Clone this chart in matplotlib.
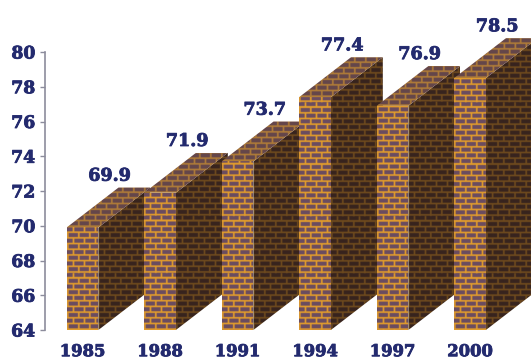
import numpy as np
import matplotlib
matplotlib.use("Agg")
import matplotlib.pyplot as plt
import matplotlib.patheffects as pe
from matplotlib.patches import Polygon

years = ["1985", "1988", "1991", "1994", "1997", "2000"]
values = [69.9, 71.9, 73.7, 77.4, 76.9, 78.5]
yticks = [64, 66, 68, 70, 72, 74, 76, 78, 80]

navy = "#232a6e"
bar_width = 0.41
depth_x = 0.67
depth_y = 2.3
heavy = [pe.withStroke(linewidth=0.6, foreground=navy)]


def bricks(w, h, brick, mortar):
    # 3x pixels, courses 5.7px high and bricks 11px long
    scale = 3
    rows, cols = int(h * scale) + 1, int(w * scale) + 1
    img = np.empty((rows, cols, 3))
    img[:] = mortar
    course = 5.7 * scale
    length = 11 * scale
    yy, xx = np.mgrid[0:rows, 0:cols]
    row_no = np.floor((rows - yy) / course)
    in_y = ((rows - yy) % course) > 1.7 * scale
    in_x = ((xx + (row_no % 2) * length / 2) % length) > 1.5 * scale
    img[in_y & in_x] = brick
    # soften a little, the reference is a blurry jpeg
    for axis in (0, 1):
        img = (np.roll(img, 1, axis) + img + np.roll(img, -1, axis)) / 3
    return img


def to_rgb(c):
    return np.array(matplotlib.colors.to_rgb(c))


fig = plt.figure(figsize=(5.31, 3.6), dpi=100)
ax = fig.add_axes([45 / 531, 1 - 330 / 360, 486 / 531, 278 / 360])
ax.set_xlim(-0.484, 5.787)
ax.set_ylim(64, 80)

px_x = 486 / (5.787 + 0.484)
px_y = 278 / 16

front_col = (to_rgb("#6a4c60"), to_rgb("#e29c2c"))
side_col = (to_rgb("#38241e"), to_rgb("#6e4a1e"))
top_col = (to_rgb("#64464a"), to_rgb("#b07c38"))

for i, v in enumerate(values):
    x0 = i - bar_width / 2
    x1 = i + bar_width / 2
    faces = [
        ([(x1, 64), (x1 + depth_x, 64 + depth_y), (x1 + depth_x, v + depth_y), (x1, v)], side_col),
        ([(x0, v), (x1, v), (x1 + depth_x, v + depth_y), (x0 + depth_x, v + depth_y)], top_col),
        ([(x0, 64), (x1, 64), (x1, v), (x0, v)], front_col),
    ]
    for pts, cols in faces:
        pts = np.array(pts)
        xa, xb = pts[:, 0].min(), pts[:, 0].max()
        ya, yb = pts[:, 1].min(), pts[:, 1].max()
        tex = bricks((xb - xa) * px_x, (yb - ya) * px_y, cols[0], cols[1])
        im = ax.imshow(tex, extent=[xa, xb, ya, yb], aspect="auto", zorder=2 + i,
                       interpolation="antialiased")
        poly = Polygon(pts, closed=True, transform=ax.transData, facecolor="none", edgecolor="none")
        im.set_clip_path(poly)
        im.set_clip_box(fig.bbox)
    ax.text(i + 0.35, v + 2.95, "%.1f" % v, ha="center", va="center", color=navy,
            fontsize=12.6, family="DejaVu Serif", weight="bold", zorder=20, clip_on=False,
            path_effects=heavy)

ax.set_xlim(-0.484, 5.787)
ax.set_ylim(64, 80)

ax.set_yticks(yticks)
ax.set_yticklabels([str(t) for t in yticks], family="DejaVu Serif", weight="bold", fontsize=12.4,
                   color=navy, path_effects=heavy)
ax.set_xticks(range(len(years)))
ax.set_xticklabels(years, family="DejaVu Serif", weight="bold", fontsize=11.8, color=navy,
                   path_effects=heavy)
ax.tick_params(axis="y", length=3.5, width=1, color="#8c8c9c", pad=3.5)
ax.tick_params(axis="x", length=0, pad=9.5)

for s in ["top", "right", "bottom"]:
    ax.spines[s].set_visible(False)
ax.spines["left"].set_color("#8c8c9c")
ax.spines["left"].set_linewidth(1.2)
ax.patch.set_visible(False)

fig.savefig("out.png", dpi=100)
